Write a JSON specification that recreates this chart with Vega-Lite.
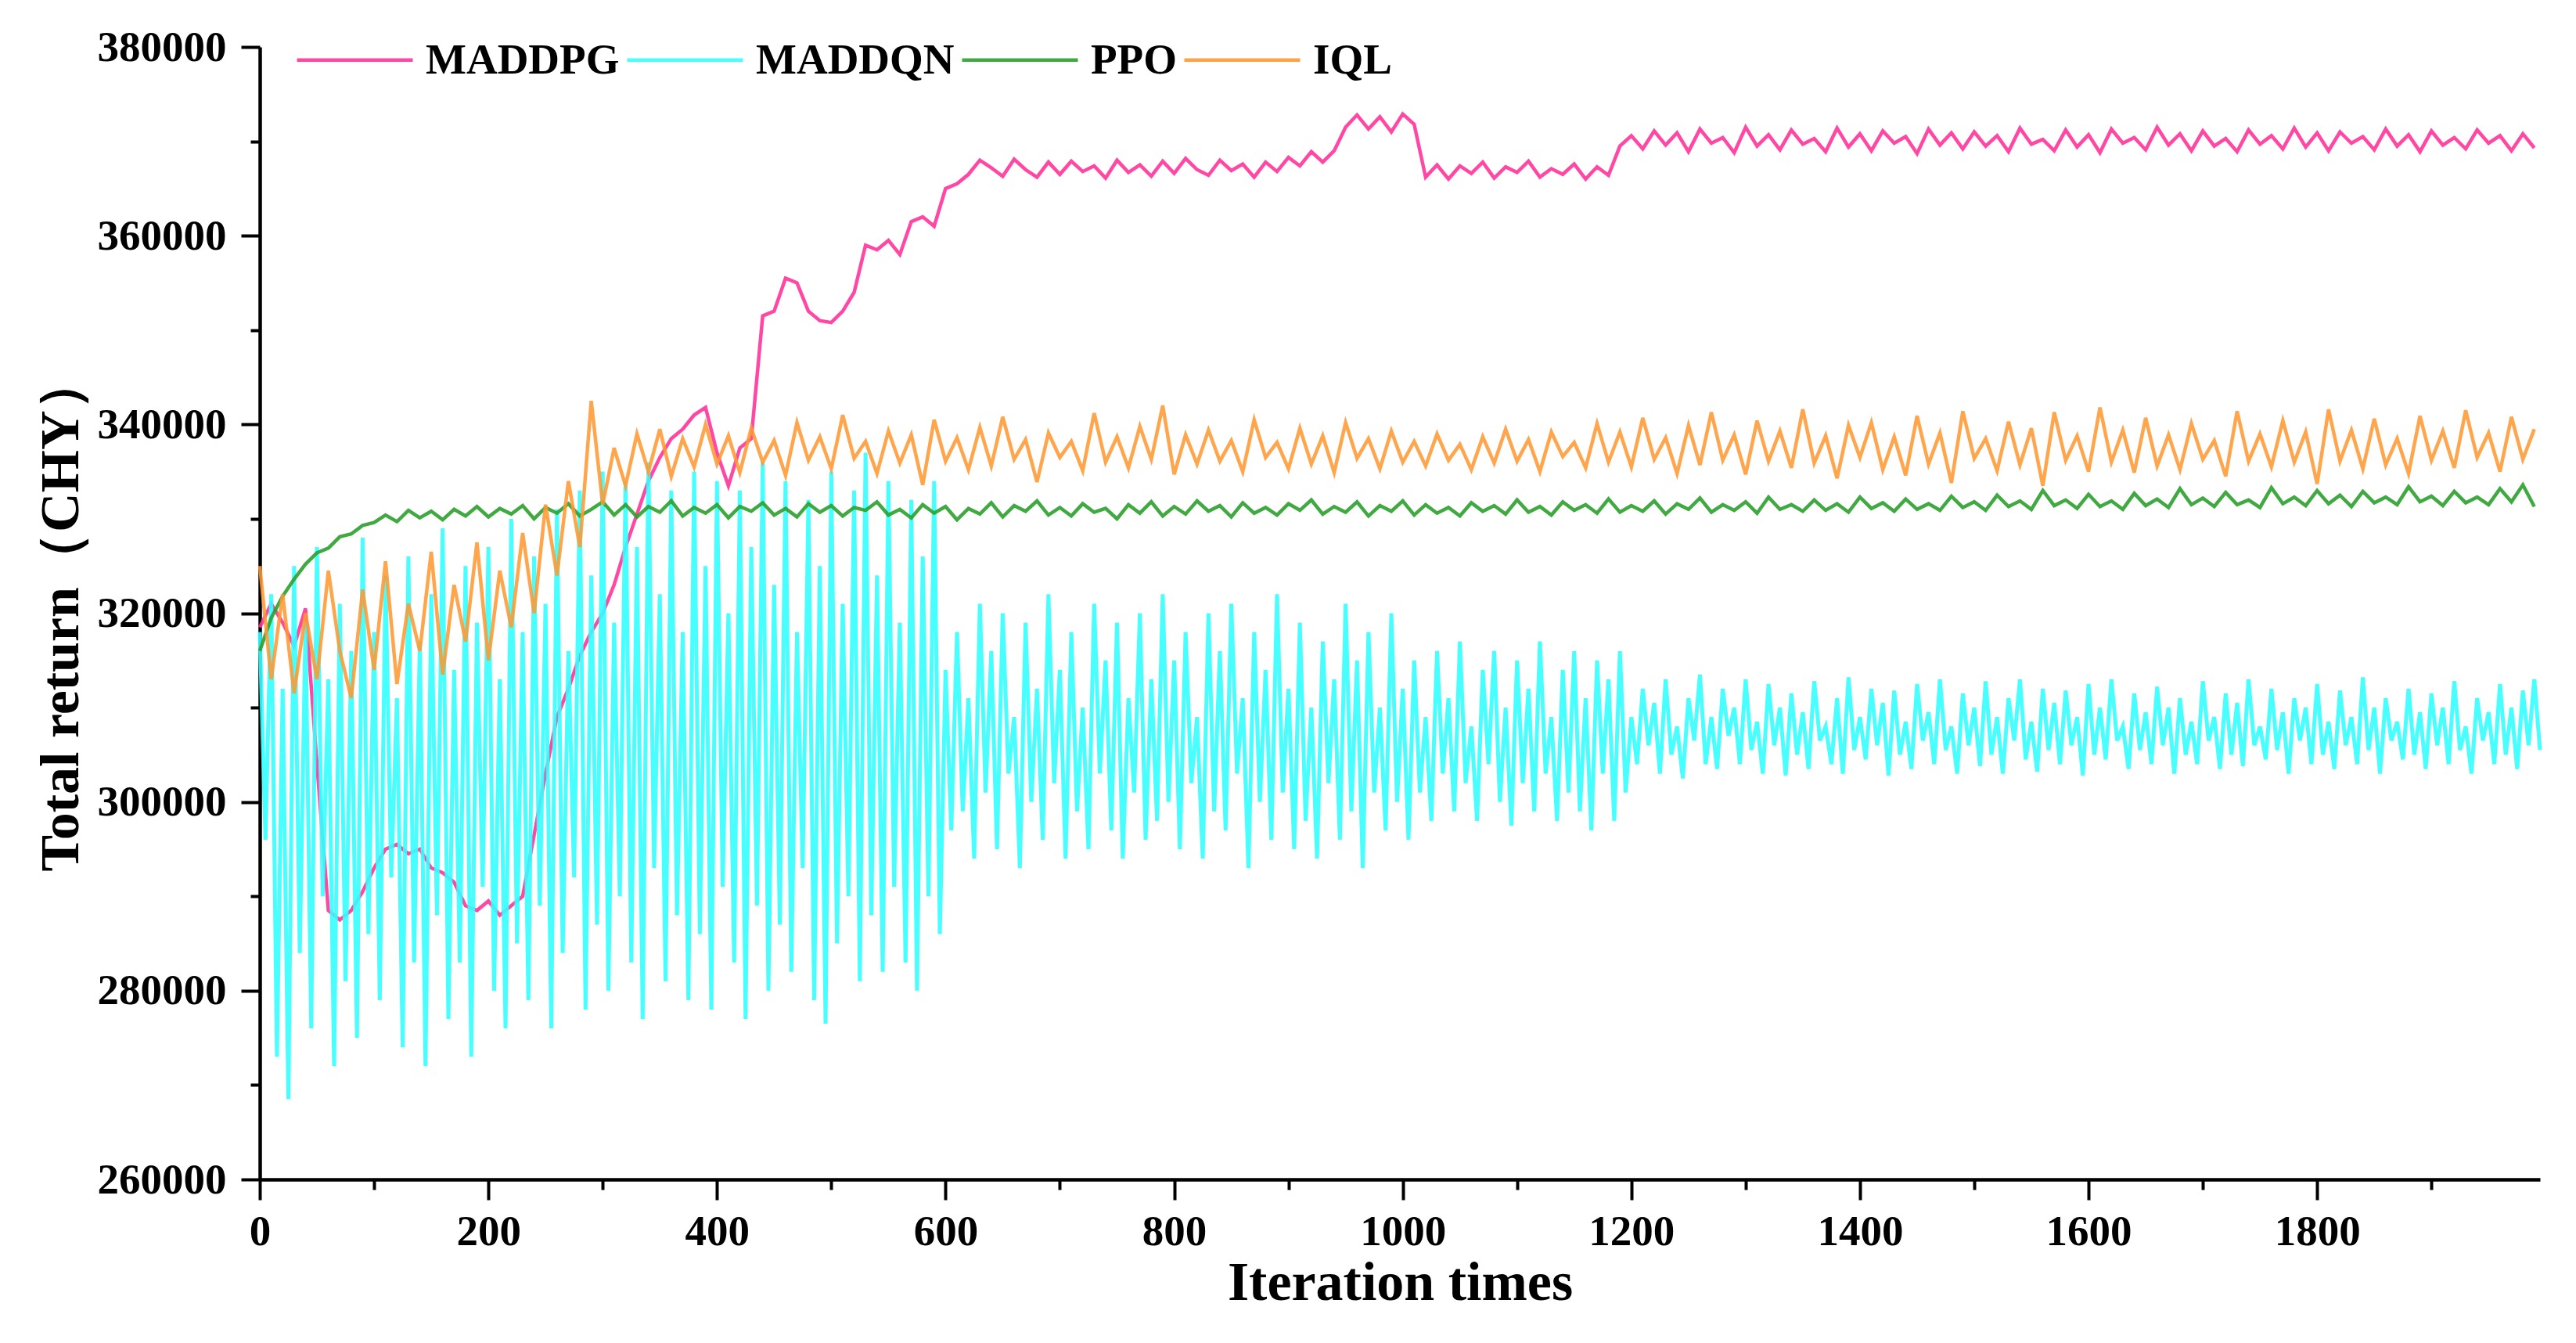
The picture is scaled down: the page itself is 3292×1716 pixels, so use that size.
{
  "$schema": "https://vega.github.io/schema/vega-lite/v6.json",
  "width": 2914,
  "height": 1447,
  "autosize": {"type": "none"},
  "padding": {"left": 332, "top": 60, "right": 46, "bottom": 209},
  "background": "white",
  "config": {"view": {"stroke": null}, "font": "Liberation Serif"},
  "datasets": {
    "maddpg": [
      {"x":0,"y":318500},{"x":10,"y":321000},{"x":20,"y":319000},{"x":30,"y":316500},{"x":40,"y":320500},{"x":50,"y":304000},{"x":60,"y":288500},{"x":70,"y":287500},{"x":80,"y":288500},{"x":90,"y":290500},
      {"x":100,"y":293000},{"x":110,"y":295000},{"x":120,"y":295500},{"x":130,"y":294500},{"x":140,"y":295000},{"x":150,"y":293000},{"x":160,"y":292500},{"x":170,"y":291500},{"x":180,"y":289000},{"x":190,"y":288500},
      {"x":200,"y":289500},{"x":210,"y":288000},{"x":220,"y":289000},{"x":230,"y":290000},{"x":240,"y":296500},{"x":250,"y":303000},{"x":260,"y":309000},{"x":270,"y":312000},{"x":280,"y":315500},{"x":290,"y":318000},
      {"x":300,"y":320000},{"x":310,"y":323000},{"x":320,"y":327000},{"x":330,"y":330500},{"x":340,"y":334000},{"x":350,"y":336500},{"x":360,"y":338500},{"x":370,"y":339500},{"x":380,"y":341000},{"x":390,"y":341800},
      {"x":400,"y":337000},{"x":410,"y":333500},{"x":420,"y":337500},{"x":430,"y":338500},{"x":440,"y":351500},{"x":450,"y":352000},{"x":460,"y":355500},{"x":470,"y":355000},{"x":480,"y":352000},{"x":490,"y":351000},
      {"x":500,"y":350800},{"x":510,"y":352000},{"x":520,"y":354000},{"x":530,"y":359000},{"x":540,"y":358500},{"x":550,"y":359500},{"x":560,"y":358000},{"x":570,"y":361500},{"x":580,"y":362000},{"x":590,"y":361000},
      {"x":600,"y":365000},{"x":610,"y":365500},{"x":620,"y":366500},{"x":630,"y":368000},{"x":640,"y":367200},{"x":650,"y":366300},{"x":660,"y":368100},{"x":670,"y":367000},{"x":680,"y":366200},{"x":690,"y":367800},
      {"x":700,"y":366500},{"x":710,"y":367900},{"x":720,"y":366800},{"x":730,"y":367400},{"x":740,"y":366100},{"x":750,"y":368000},{"x":760,"y":366700},{"x":770,"y":367500},{"x":780,"y":366300},{"x":790,"y":367900},
      {"x":800,"y":366600},{"x":810,"y":368200},{"x":820,"y":367000},{"x":830,"y":366400},{"x":840,"y":368000},{"x":850,"y":366900},{"x":860,"y":367600},{"x":870,"y":366200},{"x":880,"y":367800},{"x":890,"y":366800},
      {"x":900,"y":368300},{"x":910,"y":367400},{"x":920,"y":368900},{"x":930,"y":367800},{"x":940,"y":369000},{"x":950,"y":371500},{"x":960,"y":372800},{"x":970,"y":371300},{"x":980,"y":372600},{"x":990,"y":371000},
      {"x":1000,"y":372900},{"x":1010,"y":371800},{"x":1020,"y":366200},{"x":1030,"y":367500},{"x":1040,"y":366000},{"x":1050,"y":367400},{"x":1060,"y":366600},{"x":1070,"y":367800},{"x":1080,"y":366100},{"x":1090,"y":367300},
      {"x":1100,"y":366700},{"x":1110,"y":367900},{"x":1120,"y":366200},{"x":1130,"y":367100},{"x":1140,"y":366500},{"x":1150,"y":367600},{"x":1160,"y":366000},{"x":1170,"y":367300},{"x":1180,"y":366400},{"x":1190,"y":369500},
      {"x":1200,"y":370600},{"x":1210,"y":369200},{"x":1220,"y":371100},{"x":1230,"y":369600},{"x":1240,"y":370900},{"x":1250,"y":368900},{"x":1260,"y":371300},{"x":1270,"y":369800},{"x":1280,"y":370400},{"x":1290,"y":368800},
      {"x":1300,"y":371500},{"x":1310,"y":369500},{"x":1320,"y":370700},{"x":1330,"y":369100},{"x":1340,"y":371200},{"x":1350,"y":369700},{"x":1360,"y":370300},{"x":1370,"y":368900},{"x":1380,"y":371400},{"x":1390,"y":369400},
      {"x":1400,"y":370800},{"x":1410,"y":369000},{"x":1420,"y":371100},{"x":1430,"y":369800},{"x":1440,"y":370500},{"x":1450,"y":368700},{"x":1460,"y":371300},{"x":1470,"y":369600},{"x":1480,"y":370900},{"x":1490,"y":369200},
      {"x":1500,"y":371000},{"x":1510,"y":369500},{"x":1520,"y":370600},{"x":1530,"y":368900},{"x":1540,"y":371400},{"x":1550,"y":369700},{"x":1560,"y":370200},{"x":1570,"y":369000},{"x":1580,"y":371200},{"x":1590,"y":369400},
      {"x":1600,"y":370700},{"x":1610,"y":368800},{"x":1620,"y":371300},{"x":1630,"y":369800},{"x":1640,"y":370400},{"x":1650,"y":369100},{"x":1660,"y":371500},{"x":1670,"y":369600},{"x":1680,"y":370800},{"x":1690,"y":369000},
      {"x":1700,"y":371100},{"x":1710,"y":369500},{"x":1720,"y":370300},{"x":1730,"y":368900},{"x":1740,"y":371200},{"x":1750,"y":369700},{"x":1760,"y":370600},{"x":1770,"y":369200},{"x":1780,"y":371400},{"x":1790,"y":369400},
      {"x":1800,"y":370900},{"x":1810,"y":369000},{"x":1820,"y":371000},{"x":1830,"y":369800},{"x":1840,"y":370500},{"x":1850,"y":369100},{"x":1860,"y":371300},{"x":1870,"y":369500},{"x":1880,"y":370700},{"x":1890,"y":368900},
      {"x":1900,"y":371100},{"x":1910,"y":369600},{"x":1920,"y":370400},{"x":1930,"y":369200},{"x":1940,"y":371200},{"x":1950,"y":369800},{"x":1960,"y":370600},{"x":1970,"y":369000},{"x":1980,"y":370800},{"x":1990,"y":369300}
    ],
    "maddqn": [
      {"x":0,"y":318000},{"x":5,"y":296000},{"x":10,"y":322000},{"x":15,"y":273000},{"x":20,"y":312000},{"x":25,"y":268500},{"x":30,"y":325000},{"x":35,"y":284000},{"x":40,"y":319000},{"x":45,"y":276000},
      {"x":50,"y":327000},{"x":55,"y":290000},{"x":60,"y":313000},{"x":65,"y":272000},{"x":70,"y":321000},{"x":75,"y":281000},{"x":80,"y":316000},{"x":85,"y":275000},{"x":90,"y":328000},{"x":95,"y":286000},
      {"x":100,"y":318000},{"x":105,"y":279000},{"x":110,"y":324000},{"x":115,"y":292000},{"x":120,"y":311000},{"x":125,"y":274000},{"x":130,"y":326000},{"x":135,"y":283000},{"x":140,"y":317000},{"x":145,"y":272000},
      {"x":150,"y":322000},{"x":155,"y":288000},{"x":160,"y":329000},{"x":165,"y":277000},{"x":170,"y":314000},{"x":175,"y":283000},{"x":180,"y":325000},{"x":185,"y":273000},{"x":190,"y":319000},{"x":195,"y":291000},
      {"x":200,"y":327000},{"x":205,"y":280000},{"x":210,"y":313000},{"x":215,"y":276000},{"x":220,"y":330000},{"x":225,"y":285000},{"x":230,"y":318000},{"x":235,"y":279000},{"x":240,"y":326000},{"x":245,"y":289000},
      {"x":250,"y":321000},{"x":255,"y":276000},{"x":260,"y":331000},{"x":265,"y":284000},{"x":270,"y":316000},{"x":275,"y":292000},{"x":280,"y":333000},{"x":285,"y":278000},{"x":290,"y":324000},{"x":295,"y":287000},
      {"x":300,"y":335000},{"x":305,"y":280000},{"x":310,"y":319000},{"x":315,"y":290000},{"x":320,"y":334000},{"x":325,"y":283000},{"x":330,"y":327000},{"x":335,"y":277000},{"x":340,"y":336000},{"x":345,"y":293000},
      {"x":350,"y":322000},{"x":355,"y":281000},{"x":360,"y":333000},{"x":365,"y":288000},{"x":370,"y":318000},{"x":375,"y":279000},{"x":380,"y":335000},{"x":385,"y":286000},{"x":390,"y":325000},{"x":395,"y":278000},
      {"x":400,"y":334000},{"x":405,"y":291000},{"x":410,"y":320000},{"x":415,"y":283000},{"x":420,"y":333000},{"x":425,"y":277000},{"x":430,"y":327000},{"x":435,"y":289000},{"x":440,"y":336000},{"x":445,"y":280000},
      {"x":450,"y":323000},{"x":455,"y":287000},{"x":460,"y":334000},{"x":465,"y":282000},{"x":470,"y":318000},{"x":475,"y":293000},{"x":480,"y":332000},{"x":485,"y":279000},{"x":490,"y":325000},{"x":495,"y":276500},
      {"x":500,"y":335000},{"x":505,"y":285000},{"x":510,"y":321000},{"x":515,"y":290000},{"x":520,"y":333000},{"x":525,"y":281000},{"x":530,"y":337000},{"x":535,"y":288000},{"x":540,"y":324000},{"x":545,"y":282000},
      {"x":550,"y":334000},{"x":555,"y":291000},{"x":560,"y":319000},{"x":565,"y":283000},{"x":570,"y":332000},{"x":575,"y":280000},{"x":580,"y":326000},{"x":585,"y":290000},{"x":590,"y":334000},{"x":595,"y":286000},
      {"x":600,"y":314000},{"x":605,"y":297000},{"x":610,"y":318000},{"x":615,"y":299000},{"x":620,"y":311000},{"x":625,"y":294000},{"x":630,"y":321000},{"x":635,"y":301000},{"x":640,"y":316000},{"x":645,"y":295000},
      {"x":650,"y":320000},{"x":655,"y":303000},{"x":660,"y":309000},{"x":665,"y":293000},{"x":670,"y":319000},{"x":675,"y":300000},{"x":680,"y":312000},{"x":685,"y":296000},{"x":690,"y":322000},{"x":695,"y":302000},
      {"x":700,"y":314000},{"x":705,"y":294000},{"x":710,"y":318000},{"x":715,"y":299000},{"x":720,"y":310000},{"x":725,"y":295000},{"x":730,"y":321000},{"x":735,"y":303000},{"x":740,"y":315000},{"x":745,"y":297000},
      {"x":750,"y":319000},{"x":755,"y":294000},{"x":760,"y":311000},{"x":765,"y":301000},{"x":770,"y":320000},{"x":775,"y":296000},{"x":780,"y":313000},{"x":785,"y":298000},{"x":790,"y":322000},{"x":795,"y":300000},
      {"x":800,"y":315000},{"x":805,"y":295000},{"x":810,"y":318000},{"x":815,"y":302000},{"x":820,"y":309000},{"x":825,"y":294000},{"x":830,"y":320000},{"x":835,"y":299000},{"x":840,"y":316000},{"x":845,"y":297000},
      {"x":850,"y":321000},{"x":855,"y":303000},{"x":860,"y":311000},{"x":865,"y":293000},{"x":870,"y":318000},{"x":875,"y":300000},{"x":880,"y":314000},{"x":885,"y":296000},{"x":890,"y":322000},{"x":895,"y":301000},
      {"x":900,"y":312000},{"x":905,"y":295000},{"x":910,"y":319000},{"x":915,"y":298000},{"x":920,"y":310000},{"x":925,"y":294000},{"x":930,"y":317000},{"x":935,"y":302000},{"x":940,"y":313000},{"x":945,"y":296000},
      {"x":950,"y":321000},{"x":955,"y":299000},{"x":960,"y":315000},{"x":965,"y":293000},{"x":970,"y":318000},{"x":975,"y":301000},{"x":980,"y":310000},{"x":985,"y":297000},{"x":990,"y":320000},{"x":995,"y":300000},
      {"x":1000,"y":312000},{"x":1005,"y":296000},{"x":1010,"y":315000},{"x":1015,"y":301000},{"x":1020,"y":309000},{"x":1025,"y":298000},{"x":1030,"y":316000},{"x":1035,"y":303000},{"x":1040,"y":311000},{"x":1045,"y":299000},
      {"x":1050,"y":317000},{"x":1055,"y":302000},{"x":1060,"y":308000},{"x":1065,"y":298000},{"x":1070,"y":314000},{"x":1075,"y":304000},{"x":1080,"y":316000},{"x":1085,"y":300000},{"x":1090,"y":310000},{"x":1095,"y":297500},
      {"x":1100,"y":315000},{"x":1105,"y":302000},{"x":1110,"y":312000},{"x":1115,"y":299000},{"x":1120,"y":317000},{"x":1125,"y":303000},{"x":1130,"y":309000},{"x":1135,"y":298000},{"x":1140,"y":314000},{"x":1145,"y":301000},
      {"x":1150,"y":316000},{"x":1155,"y":299000},{"x":1160,"y":311000},{"x":1165,"y":297000},{"x":1170,"y":315000},{"x":1175,"y":303000},{"x":1180,"y":313000},{"x":1185,"y":298000},{"x":1190,"y":316000},{"x":1195,"y":301000},
      {"x":1200,"y":309000},{"x":1205,"y":304000},{"x":1210,"y":312000},{"x":1215,"y":306000},{"x":1220,"y":310500},{"x":1225,"y":303000},{"x":1230,"y":313000},{"x":1235,"y":305000},{"x":1240,"y":308000},{"x":1245,"y":302500},
      {"x":1250,"y":311000},{"x":1255,"y":306500},{"x":1260,"y":313500},{"x":1265,"y":304000},{"x":1270,"y":309000},{"x":1275,"y":303500},{"x":1280,"y":312000},{"x":1285,"y":307000},{"x":1290,"y":310000},{"x":1295,"y":304000},
      {"x":1300,"y":313000},{"x":1305,"y":305500},{"x":1310,"y":308500},{"x":1315,"y":303000},{"x":1320,"y":312500},{"x":1325,"y":306000},{"x":1330,"y":310000},{"x":1335,"y":302800},{"x":1340,"y":311500},{"x":1345,"y":305000},
      {"x":1350,"y":309500},{"x":1355,"y":303500},{"x":1360,"y":312800},{"x":1365,"y":306500},{"x":1370,"y":308000},{"x":1375,"y":304000},{"x":1380,"y":311000},{"x":1385,"y":303000},{"x":1390,"y":313200},{"x":1395,"y":305500},
      {"x":1400,"y":309000},{"x":1405,"y":304500},{"x":1410,"y":312000},{"x":1415,"y":306000},{"x":1420,"y":310500},{"x":1425,"y":302800},{"x":1430,"y":311800},{"x":1435,"y":305000},{"x":1440,"y":308500},{"x":1445,"y":303500},
      {"x":1450,"y":312500},{"x":1455,"y":306500},{"x":1460,"y":309500},{"x":1465,"y":304000},{"x":1470,"y":313000},{"x":1475,"y":305500},{"x":1480,"y":308000},{"x":1485,"y":303000},{"x":1490,"y":311500},{"x":1495,"y":306000},
      {"x":1500,"y":310000},{"x":1505,"y":303800},{"x":1510,"y":312800},{"x":1515,"y":305000},{"x":1520,"y":309000},{"x":1525,"y":303000},{"x":1530,"y":311000},{"x":1535,"y":306500},{"x":1540,"y":313000},{"x":1545,"y":304500},
      {"x":1550,"y":308500},{"x":1555,"y":303200},{"x":1560,"y":312000},{"x":1565,"y":305500},{"x":1570,"y":310500},{"x":1575,"y":304000},{"x":1580,"y":311800},{"x":1585,"y":306000},{"x":1590,"y":309000},{"x":1595,"y":302800},
      {"x":1600,"y":312500},{"x":1605,"y":305000},{"x":1610,"y":310000},{"x":1615,"y":304500},{"x":1620,"y":313000},{"x":1625,"y":306500},{"x":1630,"y":308000},{"x":1635,"y":303500},{"x":1640,"y":311500},{"x":1645,"y":305500},
      {"x":1650,"y":309500},{"x":1655,"y":304000},{"x":1660,"y":312200},{"x":1665,"y":306000},{"x":1670,"y":310000},{"x":1675,"y":303000},{"x":1680,"y":311000},{"x":1685,"y":305000},{"x":1690,"y":308500},{"x":1695,"y":304000},
      {"x":1700,"y":312800},{"x":1705,"y":306500},{"x":1710,"y":309000},{"x":1715,"y":303500},{"x":1720,"y":311500},{"x":1725,"y":305000},{"x":1730,"y":310500},{"x":1735,"y":303800},{"x":1740,"y":313000},{"x":1745,"y":306000},
      {"x":1750,"y":308000},{"x":1755,"y":304500},{"x":1760,"y":312000},{"x":1765,"y":305500},{"x":1770,"y":309500},{"x":1775,"y":303000},{"x":1780,"y":311000},{"x":1785,"y":306500},{"x":1790,"y":310000},{"x":1795,"y":304000},
      {"x":1800,"y":312500},{"x":1805,"y":305000},{"x":1810,"y":308500},{"x":1815,"y":303500},{"x":1820,"y":311800},{"x":1825,"y":306000},{"x":1830,"y":309000},{"x":1835,"y":304000},{"x":1840,"y":313200},{"x":1845,"y":305500},
      {"x":1850,"y":310000},{"x":1855,"y":303000},{"x":1860,"y":311000},{"x":1865,"y":306500},{"x":1870,"y":308500},{"x":1875,"y":304500},{"x":1880,"y":312000},{"x":1885,"y":305000},{"x":1890,"y":309500},{"x":1895,"y":303500},
      {"x":1900,"y":311500},{"x":1905,"y":306000},{"x":1910,"y":310000},{"x":1915,"y":304000},{"x":1920,"y":312800},{"x":1925,"y":305500},{"x":1930,"y":308000},{"x":1935,"y":303000},{"x":1940,"y":311000},{"x":1945,"y":306500},
      {"x":1950,"y":309500},{"x":1955,"y":304000},{"x":1960,"y":312500},{"x":1965,"y":305000},{"x":1970,"y":310000},{"x":1975,"y":303500},{"x":1980,"y":311800},{"x":1985,"y":306000},{"x":1990,"y":313000},{"x":1995,"y":305500}
    ],
    "ppo": [
      {"x":0,"y":316000},{"x":10,"y":319500},{"x":20,"y":321800},{"x":30,"y":323600},{"x":40,"y":325200},{"x":50,"y":326400},{"x":60,"y":326900},{"x":70,"y":328100},{"x":80,"y":328400},{"x":90,"y":329300},
      {"x":100,"y":329600},{"x":110,"y":330400},{"x":120,"y":329700},{"x":130,"y":330900},{"x":140,"y":330100},{"x":150,"y":330800},{"x":160,"y":329900},{"x":170,"y":331000},{"x":180,"y":330300},{"x":190,"y":331300},
      {"x":200,"y":330200},{"x":210,"y":331100},{"x":220,"y":330500},{"x":230,"y":331400},{"x":240,"y":330000},{"x":250,"y":331200},{"x":260,"y":330600},{"x":270,"y":331600},{"x":280,"y":330300},{"x":290,"y":331000},
      {"x":300,"y":331800},{"x":310,"y":330400},{"x":320,"y":331500},{"x":330,"y":330200},{"x":340,"y":331300},{"x":350,"y":330700},{"x":360,"y":331900},{"x":370,"y":330300},{"x":380,"y":331200},{"x":390,"y":330600},
      {"x":400,"y":331500},{"x":410,"y":330100},{"x":420,"y":331300},{"x":430,"y":330800},{"x":440,"y":331700},{"x":450,"y":330400},{"x":460,"y":331100},{"x":470,"y":330200},{"x":480,"y":331600},{"x":490,"y":330700},
      {"x":500,"y":331400},{"x":510,"y":330300},{"x":520,"y":331200},{"x":530,"y":330900},{"x":540,"y":331800},{"x":550,"y":330400},{"x":560,"y":331000},{"x":570,"y":330100},{"x":580,"y":331500},{"x":590,"y":330600},
      {"x":600,"y":331300},{"x":610,"y":329900},{"x":620,"y":331100},{"x":630,"y":330500},{"x":640,"y":331700},{"x":650,"y":330200},{"x":660,"y":331400},{"x":670,"y":330800},{"x":680,"y":331900},{"x":690,"y":330400},
      {"x":700,"y":331200},{"x":710,"y":330300},{"x":720,"y":331600},{"x":730,"y":330700},{"x":740,"y":331100},{"x":750,"y":330000},{"x":760,"y":331500},{"x":770,"y":330600},{"x":780,"y":331800},{"x":790,"y":330300},
      {"x":800,"y":331300},{"x":810,"y":330500},{"x":820,"y":331900},{"x":830,"y":330800},{"x":840,"y":331400},{"x":850,"y":330200},{"x":860,"y":331700},{"x":870,"y":330600},{"x":880,"y":331200},{"x":890,"y":330400},
      {"x":900,"y":331600},{"x":910,"y":330900},{"x":920,"y":332000},{"x":930,"y":330500},{"x":940,"y":331300},{"x":950,"y":330700},{"x":960,"y":331800},{"x":970,"y":330300},{"x":980,"y":331400},{"x":990,"y":330800},
      {"x":1000,"y":331900},{"x":1010,"y":330400},{"x":1020,"y":331500},{"x":1030,"y":330600},{"x":1040,"y":331200},{"x":1050,"y":330300},{"x":1060,"y":331700},{"x":1070,"y":330800},{"x":1080,"y":331400},{"x":1090,"y":330500},
      {"x":1100,"y":332000},{"x":1110,"y":330700},{"x":1120,"y":331300},{"x":1130,"y":330400},{"x":1140,"y":331800},{"x":1150,"y":330900},{"x":1160,"y":331500},{"x":1170,"y":330600},{"x":1180,"y":332100},{"x":1190,"y":330700},
      {"x":1200,"y":331400},{"x":1210,"y":330800},{"x":1220,"y":331900},{"x":1230,"y":330500},{"x":1240,"y":331600},{"x":1250,"y":331000},{"x":1260,"y":332200},{"x":1270,"y":330700},{"x":1280,"y":331500},{"x":1290,"y":330900},
      {"x":1300,"y":331800},{"x":1310,"y":330600},{"x":1320,"y":332300},{"x":1330,"y":331000},{"x":1340,"y":331500},{"x":1350,"y":330800},{"x":1360,"y":332000},{"x":1370,"y":330900},{"x":1380,"y":331600},{"x":1390,"y":330700},
      {"x":1400,"y":332300},{"x":1410,"y":331100},{"x":1420,"y":331700},{"x":1430,"y":330800},{"x":1440,"y":332100},{"x":1450,"y":331000},{"x":1460,"y":331600},{"x":1470,"y":330900},{"x":1480,"y":332400},{"x":1490,"y":331200},
      {"x":1500,"y":331800},{"x":1510,"y":330900},{"x":1520,"y":332500},{"x":1530,"y":331300},{"x":1540,"y":331900},{"x":1550,"y":331000},{"x":1560,"y":333000},{"x":1570,"y":331400},{"x":1580,"y":332000},{"x":1590,"y":331100},
      {"x":1600,"y":332600},{"x":1610,"y":331300},{"x":1620,"y":331900},{"x":1630,"y":331000},{"x":1640,"y":332700},{"x":1650,"y":331400},{"x":1660,"y":332100},{"x":1670,"y":331200},{"x":1680,"y":333200},{"x":1690,"y":331500},
      {"x":1700,"y":332200},{"x":1710,"y":331300},{"x":1720,"y":332800},{"x":1730,"y":331500},{"x":1740,"y":332000},{"x":1750,"y":331200},{"x":1760,"y":333300},{"x":1770,"y":331600},{"x":1780,"y":332300},{"x":1790,"y":331400},
      {"x":1800,"y":333000},{"x":1810,"y":331600},{"x":1820,"y":332500},{"x":1830,"y":331300},{"x":1840,"y":332900},{"x":1850,"y":331700},{"x":1860,"y":332300},{"x":1870,"y":331500},{"x":1880,"y":333400},{"x":1890,"y":331800},
      {"x":1900,"y":332400},{"x":1910,"y":331400},{"x":1920,"y":332900},{"x":1930,"y":331700},{"x":1940,"y":332300},{"x":1950,"y":331500},{"x":1960,"y":333200},{"x":1970,"y":331800},{"x":1980,"y":333600},{"x":1990,"y":331300}
    ],
    "iql": [
      {"x":0,"y":325000},{"x":10,"y":313000},{"x":20,"y":322000},{"x":30,"y":311500},{"x":40,"y":320000},{"x":50,"y":313000},{"x":60,"y":324500},{"x":70,"y":316000},{"x":80,"y":311000},{"x":90,"y":322500},
      {"x":100,"y":314000},{"x":110,"y":325500},{"x":120,"y":312500},{"x":130,"y":321000},{"x":140,"y":316000},{"x":150,"y":326500},{"x":160,"y":313500},{"x":170,"y":323000},{"x":180,"y":317000},{"x":190,"y":327500},
      {"x":200,"y":315000},{"x":210,"y":324500},{"x":220,"y":318500},{"x":230,"y":328500},{"x":240,"y":320000},{"x":250,"y":331500},{"x":260,"y":324000},{"x":270,"y":334000},{"x":280,"y":327000},{"x":290,"y":342500},
      {"x":300,"y":331500},{"x":310,"y":337500},{"x":320,"y":333500},{"x":330,"y":339000},{"x":340,"y":335000},{"x":350,"y":339500},{"x":360,"y":334500},{"x":370,"y":338500},{"x":380,"y":335500},{"x":390,"y":340000},
      {"x":400,"y":335800},{"x":410,"y":338800},{"x":420,"y":334900},{"x":430,"y":339600},{"x":440,"y":336000},{"x":450,"y":338300},{"x":460,"y":334600},{"x":470,"y":340200},{"x":480,"y":336200},{"x":490,"y":338700},
      {"x":500,"y":335300},{"x":510,"y":341000},{"x":520,"y":336400},{"x":530,"y":338200},{"x":540,"y":334800},{"x":550,"y":339300},{"x":560,"y":335900},{"x":570,"y":338900},{"x":580,"y":333600},{"x":590,"y":340500},
      {"x":600,"y":336100},{"x":610,"y":338600},{"x":620,"y":335200},{"x":630,"y":339700},{"x":640,"y":335600},{"x":650,"y":340800},{"x":660,"y":336300},{"x":670,"y":338400},{"x":680,"y":333900},{"x":690,"y":339100},
      {"x":700,"y":336500},{"x":710,"y":338200},{"x":720,"y":335100},{"x":730,"y":341200},{"x":740,"y":336000},{"x":750,"y":338700},{"x":760,"y":335400},{"x":770,"y":339800},{"x":780,"y":336300},{"x":790,"y":342000},
      {"x":800,"y":334700},{"x":810,"y":338900},{"x":820,"y":335800},{"x":830,"y":339400},{"x":840,"y":336100},{"x":850,"y":338300},{"x":860,"y":335000},{"x":870,"y":340500},{"x":880,"y":336500},{"x":890,"y":338100},
      {"x":900,"y":335300},{"x":910,"y":339600},{"x":920,"y":335800},{"x":930,"y":338800},{"x":940,"y":334900},{"x":950,"y":340200},{"x":960,"y":336400},{"x":970,"y":338500},{"x":980,"y":335300},{"x":990,"y":339300},
      {"x":1000,"y":336000},{"x":1010,"y":338200},{"x":1020,"y":335600},{"x":1030,"y":339000},{"x":1040,"y":336200},{"x":1050,"y":337900},{"x":1060,"y":335200},{"x":1070,"y":338700},{"x":1080,"y":335900},{"x":1090,"y":339500},
      {"x":1100,"y":336100},{"x":1110,"y":338400},{"x":1120,"y":335000},{"x":1130,"y":339200},{"x":1140,"y":336600},{"x":1150,"y":338100},{"x":1160,"y":335400},{"x":1170,"y":340100},{"x":1180,"y":336000},{"x":1190,"y":339200},
      {"x":1200,"y":335500},{"x":1210,"y":340700},{"x":1220,"y":336300},{"x":1230,"y":338600},{"x":1240,"y":334800},{"x":1250,"y":339900},{"x":1260,"y":335700},{"x":1270,"y":341300},{"x":1280,"y":336200},{"x":1290,"y":338900},
      {"x":1300,"y":334700},{"x":1310,"y":340400},{"x":1320,"y":336100},{"x":1330,"y":339300},{"x":1340,"y":335400},{"x":1350,"y":341600},{"x":1360,"y":335900},{"x":1370,"y":338800},{"x":1380,"y":334300},{"x":1390,"y":339900},
      {"x":1400,"y":336500},{"x":1410,"y":340200},{"x":1420,"y":335200},{"x":1430,"y":338700},{"x":1440,"y":334600},{"x":1450,"y":340900},{"x":1460,"y":335800},{"x":1470,"y":339100},{"x":1480,"y":333800},{"x":1490,"y":341400},
      {"x":1500,"y":336400},{"x":1510,"y":338500},{"x":1520,"y":335100},{"x":1530,"y":340300},{"x":1540,"y":335700},{"x":1550,"y":339600},{"x":1560,"y":333500},{"x":1570,"y":341300},{"x":1580,"y":336200},{"x":1590,"y":338800},
      {"x":1600,"y":335000},{"x":1610,"y":341800},{"x":1620,"y":336000},{"x":1630,"y":339400},{"x":1640,"y":334900},{"x":1650,"y":340700},{"x":1660,"y":335600},{"x":1670,"y":338900},{"x":1680,"y":335200},{"x":1690,"y":340100},
      {"x":1700,"y":336300},{"x":1710,"y":338300},{"x":1720,"y":334500},{"x":1730,"y":341400},{"x":1740,"y":336100},{"x":1750,"y":339000},{"x":1760,"y":335500},{"x":1770,"y":340400},{"x":1780,"y":336000},{"x":1790,"y":339200},
      {"x":1800,"y":333700},{"x":1810,"y":341600},{"x":1820,"y":336100},{"x":1830,"y":339400},{"x":1840,"y":335300},{"x":1850,"y":340600},{"x":1860,"y":335700},{"x":1870,"y":338500},{"x":1880,"y":334800},{"x":1890,"y":340900},
      {"x":1900,"y":336200},{"x":1910,"y":339300},{"x":1920,"y":335400},{"x":1930,"y":341500},{"x":1940,"y":336500},{"x":1950,"y":339100},{"x":1960,"y":335000},{"x":1970,"y":340800},{"x":1980,"y":336300},{"x":1990,"y":339500}
    ]
  },
  "layer": [
    {
      "data": {"name": "maddpg"},
      "mark": {"type": "line", "strokeWidth": 4.5, "opacity": 0.9},
      "encoding": {
        "x": {
          "field": "x", "type": "quantitative",
          "scale": {"domain": [0, 1995], "nice": false, "zero": false},
          "axis": {
            "orient": "bottom", "values": [0, 200, 400, 600, 800, 1000, 1200, 1400, 1600, 1800], "format": "d",
            "grid": false, "domainColor": "black", "domainWidth": 4.5, "tickColor": "black", "tickWidth": 4, "tickSize": 26,
            "labelFont": "Liberation Serif", "labelFontWeight": "bold", "labelFontSize": 55, "labelColor": "black", "labelPadding": 14,
            "labelFlush": false, "labelOverlap": false,
            "title": "Iteration times", "titleFont": "Liberation Serif", "titleFontWeight": "bold", "titleFontSize": 70, "titleColor": "black", "titlePadding": 4
          }
        },
        "y": {
          "field": "y", "type": "quantitative",
          "scale": {"domain": [260000, 380000], "nice": false, "zero": false},
          "axis": {
            "orient": "left", "values": [260000, 280000, 300000, 320000, 340000, 360000, 380000],
            "grid": false, "domainColor": "black", "domainWidth": 4.5, "tickColor": "black", "tickWidth": 4, "tickSize": 24,
            "labelFont": "Liberation Serif", "labelFontWeight": "bold", "labelFontSize": 55, "labelColor": "black", "labelPadding": 19,
            "labelFlush": false, "labelOverlap": false, "format": "d",
            "title": "Total return（CHY）", "titleFont": "Liberation Serif", "titleFontWeight": "bold", "titleFontSize": 70, "titleColor": "black", "titlePadding": 18
          }
        },
        "color": {
          "datum": "MADDPG", "type": "nominal",
          "scale": {"domain": ["MADDPG", "MADDQN", "PPO", "IQL"], "range": ["#FF3399", "#33FFFF", "#2CA02C", "#FF9933"]},
          "legend": {
            "orient": "none", "direction": "horizontal", "legendX": 45, "legendY": -60, "title": null,
            "symbolType": "stroke", "symbolSize": 21904, "symbolStrokeWidth": 4.5, "symbolOpacity": 1,
            "labelFont": "Liberation Serif", "labelFontWeight": "bold", "labelFontSize": 55, "labelColor": "black",
            "labelOffset": 14, "columnPadding": 0, "padding": 0, "labelLimit": 600
          }
        }
      }
    },
    {
      "data": {"name": "maddqn"},
      "mark": {"type": "line", "strokeWidth": 5, "opacity": 0.9},
      "encoding": {
        "x": {
          "field": "x", "type": "quantitative",
          "axis": {
            "orient": "bottom", "values": [100, 300, 500, 700, 900, 1100, 1300, 1500, 1700, 1900],
            "grid": false, "domain": false, "labels": false, "title": null,
            "tickColor": "black", "tickWidth": 4, "tickSize": 13
          }
        },
        "y": {
          "field": "y", "type": "quantitative",
          "axis": {
            "orient": "left", "values": [270000, 290000, 310000, 330000, 350000, 370000],
            "grid": false, "domain": false, "labels": false, "title": null,
            "tickColor": "black", "tickWidth": 4, "tickSize": 12
          }
        },
        "color": {"datum": "MADDQN", "type": "nominal"}
      }
    },
    {
      "data": {"name": "ppo"},
      "mark": {"type": "line", "strokeWidth": 4.5, "opacity": 0.9},
      "encoding": {
        "x": {"field": "x", "type": "quantitative", "axis": null},
        "y": {"field": "y", "type": "quantitative", "axis": null},
        "color": {"datum": "PPO", "type": "nominal"}
      }
    },
    {
      "data": {"name": "iql"},
      "mark": {"type": "line", "strokeWidth": 4.5, "opacity": 0.88},
      "encoding": {
        "x": {"field": "x", "type": "quantitative", "axis": null},
        "y": {"field": "y", "type": "quantitative", "axis": null},
        "color": {"datum": "IQL", "type": "nominal"}
      }
    }
  ],
  "resolve": {"axis": {"x": "independent", "y": "independent"}}
}
